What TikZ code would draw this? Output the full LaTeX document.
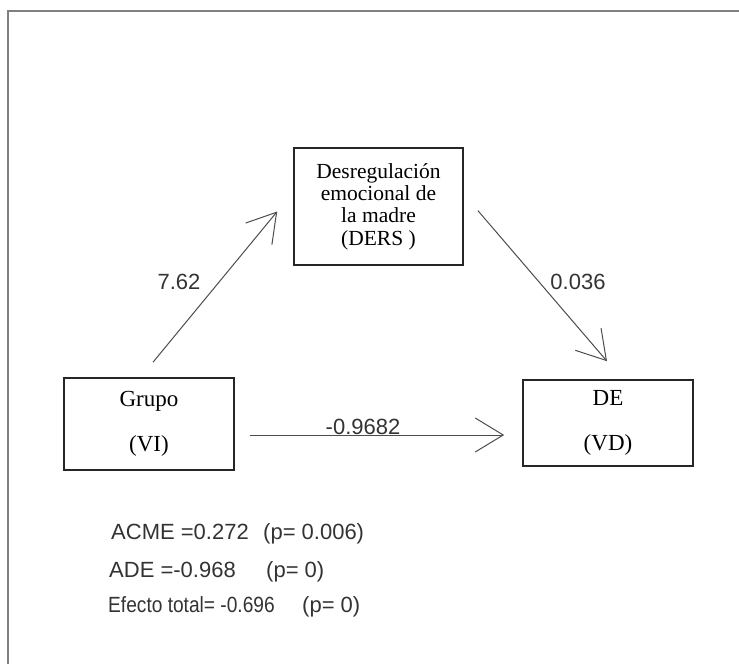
\documentclass[tikz,border=0pt]{standalone}
\usepackage{fontspec}
\setmainfont{Liberation Serif}
\setsansfont{Liberation Sans}
\usepackage{tikz}
\usetikzlibrary{arrows.meta,positioning}

\begin{document}
\begin{tikzpicture}[
    x=1pt, y=-1pt,
    box/.style={rectangle, draw=black!85, line width=1.6pt, minimum width=170pt, align=center, font=\fontsize{23}{23}\selectfont},
    lbl/.style={font=\fontsize{22}{24}\selectfont\sffamily, text=black!80, inner sep=0pt},
    arr/.style={-{Straight Barb[length=28pt,width=34pt]}, line width=1pt, draw=black!70}
  ]
    \useasboundingbox (0,0) rectangle (739,664);
    \draw[black!50, line width=2.5pt] (8,664) -- (8,11) -- (739,11);
    \node[box, minimum width=169pt, minimum height=117pt, font=\fontsize{21.5}{22.3}\selectfont] (ders) at (378.5,206.5) {Desregulación\\emocional de\\la madre\\(DERS )};
    \node[box, minimum height=92pt] (grupo) at (149,424) {Grupo\\[22pt](VI)};
    \node[box, minimum height=86pt] (de) at (608,423) {DE\\[22pt](VD)};
    \draw[arr] ([shift={(4,-15)}]grupo.north) -- ([shift={(-16,5)}]ders.west);
    \draw[arr] ([shift={(14,4)}]ders.east) -- ([shift={(-1,-18)}]de.north);
    \draw[arr] ([shift={(15,11)}]grupo.east) -- ([shift={(-18,12)}]de.west);
    \node[lbl] (b1) at (179,282) {7.62};
    \node[lbl] (b2) at (578,282) {0.036};
    \node[lbl] (c1) at (363,427) {-0.9682};
    \node[lbl, anchor=base west] (acme) at (111,539) {ACME =0.272};
    \node[lbl, anchor=base west] (pacme) at (263,539) {(p= 0.006)};
    \node[lbl, anchor=base west] (ade) at (109,577) {ADE =-0.968};
    \node[lbl, anchor=base west] (pade) at (266,577) {(p= 0)};
    \node[lbl, anchor=base west] (total) at (108,612) {\scalebox{0.87}[1]{Efecto total= -0.696}};
    \node[lbl, anchor=base west] (ptotal) at (302,612) {(p= 0)};
  \end{tikzpicture}
\end{document}
